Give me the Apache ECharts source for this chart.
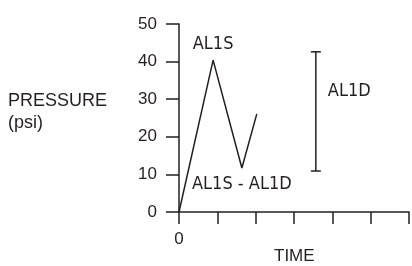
<!DOCTYPE html>
<html>
<head>
<meta charset="utf-8">
<script src="https://cdn.jsdelivr.net/npm/echarts@6/dist/echarts.min.js"></script>
<style>
  html, body { margin: 0; padding: 0; background: #fff; }
  #main { width: 412px; height: 266px; }
</style>
</head>
<body>
<div id="main"></div>
<script>
// pressure trace
var timeVals = [0, 0.89, 1.64, 2.03];
var pressureVals = [0, 40.4, 11.7, 26.1];
var pointLabels = ['', 'AL1S', 'AL1S - AL1D', ''];

// AL1D range bar: [time, low, high]
var rangeBar = [[3.57, 10.9, 42.6]];
var rangeLabel = 'AL1D';

var yTicks = [0, 10, 20, 30, 40, 50];
var xMax = 6;

var ink = '#231f20';
var narrow = '"Liberation Sans Narrow", "DejaVu Sans Condensed", "Liberation Sans", sans-serif';
var plain = '"Liberation Sans", Arial, sans-serif';

var chart = echarts.init(document.getElementById('main'), null, {renderer: 'canvas'});

var lineData = timeVals.map(function (t, i) {
  var d = {value: [t, pressureVals[i]]};
  if (pointLabels[i]) {
    d.label = {
      show: true,
      formatter: pointLabels[i],
      position: i === 1 ? 'top' : 'bottom',
      distance: i === 1 ? 6 : 7
    };
  }
  return d;
});

var option = {
  animation: false,
  grid: {left: 179, top: 24, width: 230, height: 188},
  xAxis: {
    type: 'value',
    min: 0,
    max: xMax,
    interval: 1,
    axisLine: {show: true, lineStyle: {color: ink, width: 1.5}},
    axisTick: {show: true, length: 12, lineStyle: {color: ink, width: 1.5}},
    axisLabel: {
      margin: 19,
      color: ink,
      fontFamily: plain,
      fontSize: 17,
      formatter: function (v) { return v === 0 ? '0' : ''; }
    },
    splitLine: {show: false}
  },
  yAxis: {
    type: 'value',
    min: yTicks[0],
    max: yTicks[yTicks.length - 1],
    interval: 10,
    axisLine: {show: true, lineStyle: {color: ink, width: 1.5}},
    axisTick: {show: true, length: 13, lineStyle: {color: ink, width: 1.5}},
    axisLabel: {margin: 22, color: ink, fontFamily: plain, fontSize: 17},
    splitLine: {show: false}
  },
  graphic: [
    {type: 'text', left: 8, top: 90, style: {text: 'PRESSURE\n(psi)', fill: ink, font: '18px ' + plain, lineHeight: 22}},
    {type: 'text', left: 274, top: 248, style: {text: 'TIME', fill: ink, font: '17px ' + plain}}
  ],
  series: [
    {
      type: 'line',
      data: lineData,
      symbol: 'circle',
      symbolSize: 1,
      showSymbol: true,
      showAllSymbol: true,
      itemStyle: {color: 'rgba(0,0,0,0)', borderWidth: 0},
      silent: true,
      lineStyle: {color: ink, width: 1.5},
      label: {color: ink, fontFamily: narrow, fontSize: 18},
      labelLayout: {hideOverlap: false}
    },
    {
      type: 'custom',
      silent: true,
      data: rangeBar,
      renderItem: function (params, api) {
        var x = api.value(0);
        var lo = api.coord([x, api.value(1)]);
        var hi = api.coord([x, api.value(2)]);
        var cap = 5;
        var st = {stroke: ink, lineWidth: 1.5};
        return {
          type: 'group',
          children: [
            {type: 'line', shape: {x1: lo[0], y1: lo[1], x2: hi[0], y2: hi[1]}, style: st},
            {type: 'line', shape: {x1: hi[0] - cap, y1: hi[1], x2: hi[0] + cap, y2: hi[1]}, style: st},
            {type: 'line', shape: {x1: lo[0] - cap, y1: lo[1], x2: lo[0] + cap, y2: lo[1]}, style: st},
            {
              type: 'text',
              x: hi[0] + 12,
              y: (hi[1] + lo[1]) / 2 - 20,
              style: {text: rangeLabel, fill: ink, font: '18px ' + narrow, verticalAlign: 'middle'}
            }
          ]
        };
      }
    }
  ]
};

chart.setOption(option);
</script>
</body>
</html>
